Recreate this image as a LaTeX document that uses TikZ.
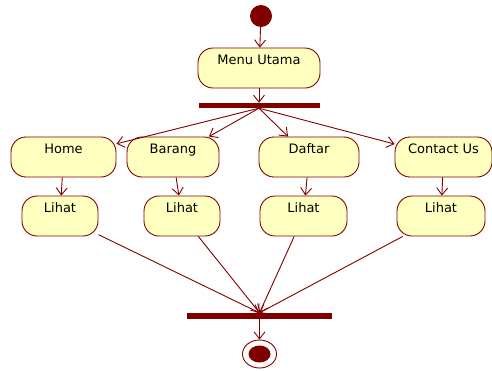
\documentclass[tikz,border=0pt]{standalone}
\usepackage{fontspec}
\newfontfamily\diagfont{DejaVu Sans}
\usepackage{tikz}
\usetikzlibrary{shapes.geometric, arrows, arrows.meta}
\definecolor{maroon}{RGB}{128,0,0}
\definecolor{paleyellow}{RGB}{255,255,192}
\tikzstyle{activity} = [rectangle, rounded corners=15pt, minimum height=40pt, text height=11.75pt, text depth=18.25pt, inner ysep=5pt, inner xsep=2pt, text centered, line width=0.9pt, draw=maroon, fill=paleyellow, font={\diagfont\fontsize{13}{15}\selectfont}]
\tikzstyle{bar} = [rectangle, inner sep=0pt, minimum width=121pt, minimum height=5pt, fill=maroon]
\tikzstyle{initial} = [circle, inner sep=0pt, minimum size=22pt, fill=maroon]
\tikzstyle{arrow} = [color=maroon, line width=0.9pt, ->, >={Straight Barb[length=7pt, width=11pt]}]

\begin{document}
\begin{tikzpicture}[x=1pt, y=-1pt, node distance=60pt]
		\useasboundingbox (0,0) rectangle (492,370);
		\node (start) [initial] at (261,16) {};
		\node (menu) [activity, minimum width=122pt, below of=start, xshift=-2pt, yshift=8pt] {Menu Utama};
		\draw [arrow] (start) -- (menu);
		\node (fork) [bar, below of=menu, yshift=22.5pt] {};
		\draw [arrow] (menu) -- (fork);
		\node (home) [activity, minimum width=105pt] at (63.5,157) {Home};
		\node (barang) [activity, minimum width=92pt, right of=home, xshift=49.5pt] {Barang};
		\node (daftar) [activity, minimum width=100pt, right of=barang, xshift=76pt] {Daftar};
		\node (contact) [activity, minimum width=97pt, right of=daftar, xshift=74.5pt] {Contact Us};
		\foreach \n in {home, barang, daftar, contact}
			\draw [arrow] (fork.south) -- (\n);
		\node (lihathome) [activity, minimum width=76pt, below of=home, xshift=-3.5pt, yshift=1pt] {Lihat};
		\node (lihatbarang) [activity, minimum width=76pt, below of=barang, xshift=9pt, yshift=1pt] {Lihat};
		\node (lihatdaftar) [activity, minimum width=87pt, below of=daftar, xshift=-5.5pt, yshift=1pt] {Lihat};
		\node (lihatcontact) [activity, minimum width=88pt, below of=contact, xshift=-2.5pt, yshift=1pt] {Lihat};
		\draw [arrow] (home) -- (lihathome);
		\draw [arrow] (barang) -- (lihatbarang);
		\draw [arrow] (daftar) -- (lihatdaftar);
		\draw [arrow] (contact) -- (lihatcontact);
		\node (join) [bar, minimum width=145pt, minimum height=6pt] at (259.5,316) {};
		\foreach \n in {lihathome, lihatbarang, lihatdaftar, lihatcontact}
			\draw [arrow] (\n) -- (join.north);
		\node (end) [ellipse, line width=0.9pt, draw=maroon, fill=white, minimum width=34pt, minimum height=28pt, below of=join, yshift=22pt] {};
		\node (endin) [ellipse, inner sep=0pt, fill=maroon, minimum width=22pt, minimum height=17pt] at (end) {};
		\draw [arrow] (join) -- (end);
	\end{tikzpicture}
\end{document}
